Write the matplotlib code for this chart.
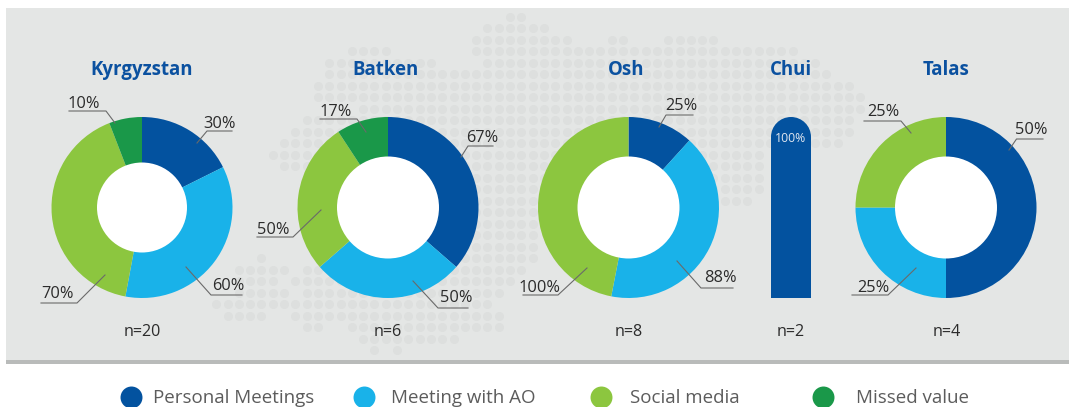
import matplotlib
matplotlib.use("Agg")
import matplotlib.pyplot as plt
from matplotlib.patches import Rectangle, Circle
from matplotlib.path import Path

plt.rcParams['font.family'] = ['Open Sans', 'DejaVu Sans']

W, H = 1069, 407

# ---- data ----
SERIES = ["Personal Meetings", "Meeting with AO", "Social media", "Missed value"]
COLORS = ["#03529f", "#19b2e9", "#8cc63f", "#1a9849"]

kyrgyzstan = [30, 60, 70, 10]
batken = [67, 50, 50, 17]
osh = [25, 88, 100, 0]
chui = [100, 0, 0, 0]
talas = [50, 25, 25, 0]

REGIONS = ["Kyrgyzstan", "Batken", "Osh", "Chui", "Talas"]
COUNTS = ["n=20", "n=6", "n=8", "n=2", "n=4"]

# ---- layout (pixels) ----
CENTERS = {"Kyrgyzstan": 142, "Batken": 388, "Osh": 628.5, "Talas": 946}
HOLES = {"Kyrgyzstan": 45, "Batken": 51, "Osh": 51, "Talas": 51}
VALUES = {"Kyrgyzstan": kyrgyzstan, "Batken": batken, "Osh": osh, "Talas": talas}
CY, R = 207.5, 90.5
TITLE_X = [142, 385, 626, 790.5, 946.5]
N_X = [142, 387.5, 628.5, 790.5, 946.5]

# label text centre, then leader polyline from wedge to the end of the underline
LABELS = [
    ("30%", 219.5, 122, [(197, 143), (207, 131), (232, 131)]),
    ("60%", 228, 284, [(186, 267), (211, 295), (242, 295)]),
    ("70%", 57.5, 293, [(105, 275), (77, 303), (41, 303)]),
    ("10%", 83.5, 102, [(115, 123), (106, 111), (69, 111)]),
    ("67%", 482, 137, [(461, 157), (468, 146), (493, 146)]),
    ("50%", 456, 297, [(413, 281), (438, 308), (468, 308)]),
    ("50%", 273, 228, [(321, 210), (293, 237), (257, 237)]),
    ("17%", 335.5, 110, [(366, 132), (357, 119), (320, 119)]),
    ("25%", 681, 105, [(659, 127), (666, 115), (693, 115)]),
    ("88%", 720, 277, [(677, 261), (701, 288), (733, 288)]),
    ("100%", 539, 286, [(587, 268), (558, 295), (523, 295)]),
    ("50%", 1031, 129, [(1009, 150), (1016.5, 139), (1043, 139)]),
    ("25%", 883.5, 111, [(911, 133), (901, 121), (864, 121)]),
    ("25%", 873, 286, [(916, 268), (888, 295), (852, 295)]),
]

LEGEND_DOT_X = [131, 364, 600.5, 823]
LEGEND_TXT_X = [153, 391, 630.5, 855.5]

# background dot map: row -> (first column, last column) runs
MAP_ROWS = {
    0: [(0, 1)], 1: [(-2, 3)], 2: [(-3, 5), (9, 10), (14, 18)],
    3: [(-14, -11), (-3, 25)], 4: [(-16, -7), (-2, 27)], 5: [(-16, 28)],
    6: [(-17, 30)], 7: [(-17, 31)], 8: [(-13, 31)], 9: [(-18, 30)],
    10: [(-19, 30)], 11: [(-20, 29)], 12: [(-21, 22)], 13: [(-20, 22)],
    14: [(-10, 22)], 15: [(-10, 22)], 16: [(-10, 21)], 17: [(-10, 2)],
    18: [(-10, 2)], 19: [(-10, 2)], 20: [(-10, 2)], 21: [(-22, -22), (-10, 2)],
    22: [(-24, -20), (-18, 1)], 23: [(-24, -21), (-19, 0)],
    24: [(-24, -20), (-18, -1)], 25: [(-26, -2)], 26: [(-25, -22), (-19, -1)],
    27: [(-18, -17), (-14, -1)], 28: [(-13, -5)], 29: [(-12, -12), (-10, -10)],
}

TEXT = "#2b2b2b"
TITLE = "#0b51a0"

fig = plt.figure(figsize=(W / 100, H / 100), dpi=100, facecolor="white")


def px_axes(x0, y0, x1, y1, z):
    a = fig.add_axes([x0 / W, 1 - y1 / H, (x1 - x0) / W, (y1 - y0) / H], zorder=z)
    a.set_axis_off()
    return a


# back layer in pixel coordinates
bg = px_axes(0, 0, W, H, 0)
bg.set_xlim(0, W)
bg.set_ylim(H, 0)
bg.add_patch(Rectangle((6, 8), W - 6, 352, fc="#e4e6e5", ec="none"))
bg.add_patch(Rectangle((6, 360), W - 6, 4, fc="#b9bbba", ec="none"))
xs, ys = [], []
for row, runs in MAP_ROWS.items():
    for a, b in runs:
        for c in range(a, b + 1):
            xs.append(510 + 11.3 * c)
            ys.append(16.5 + 11.5 * row)
bg.scatter(xs, ys, s=42, c="#dddfde", linewidths=0)

# doughnuts
for name, cx in CENTERS.items():
    ax = px_axes(cx - R, CY - R, cx + R, CY + R, 1)
    ax.pie(VALUES[name], colors=COLORS, startangle=90, counterclock=False, radius=1,
           wedgeprops=dict(linewidth=0))
    ax.add_patch(Circle((0, 0), HOLES[name] / R, fc="white", ec="none", zorder=5))
    ax.set_xlim(-1, 1)
    ax.set_ylim(-1, 1)

# Chui: single rounded column
ax = px_axes(771, CY - R, 811, CY + R, 1)
bars = ax.bar([0], [chui[0]], width=1, color=COLORS[0], linewidth=0)
ax.set_xlim(-0.5, 0.5)
ax.set_ylim(0, 100)
cap = 100 * 20 / (2 * R)
t = ax.transData
k = 0.5523
clip = Path(
    [(-0.5, 0), (-0.5, 100 - cap), (-0.5, 100 - cap + k * cap), (-k * 0.5, 100), (0, 100),
     (k * 0.5, 100), (0.5, 100 - cap + k * cap), (0.5, 100 - cap), (0.5, 0), (-0.5, 0)],
    [Path.MOVETO, Path.LINETO, Path.CURVE4, Path.CURVE4, Path.CURVE4,
     Path.CURVE4, Path.CURVE4, Path.CURVE4, Path.LINETO, Path.CLOSEPOLY])
bars[0].set_clip_path(clip, t)

# front layer: text and leaders
fg = px_axes(0, 0, W, H, 2)
fg.set_xlim(0, W)
fg.set_ylim(H, 0)

for name, x in zip(REGIONS, TITLE_X):
    fg.text(x, 75, name, color=TITLE, fontsize=13.4, fontweight="bold", ha="center", va="baseline")
for n, x in zip(COUNTS, N_X):
    fg.text(x, 331.5, n, color=TEXT, fontsize=11.6, ha="center", va="center")
for txt, x, y, line in LABELS:
    fg.text(x, y + 1.5, txt, color=TEXT, fontsize=11.8, ha="center", va="center")
    fg.plot([p[0] for p in line], [p[1] for p in line], color="#6a6a6a", lw=0.8)
fg.text(790.5, 139, "100%", color="#dfe6f0", fontsize=8.8, ha="center", va="center")

for label, color, dx, tx in zip(SERIES, COLORS, LEGEND_DOT_X, LEGEND_TXT_X):
    fg.scatter([dx], [397], s=250, c=color, linewidths=0)
    fg.text(tx, 398, label, color="#5c5c5c", fontsize=13.5, ha="left", va="center")

fig.savefig("out.png", dpi=100)
